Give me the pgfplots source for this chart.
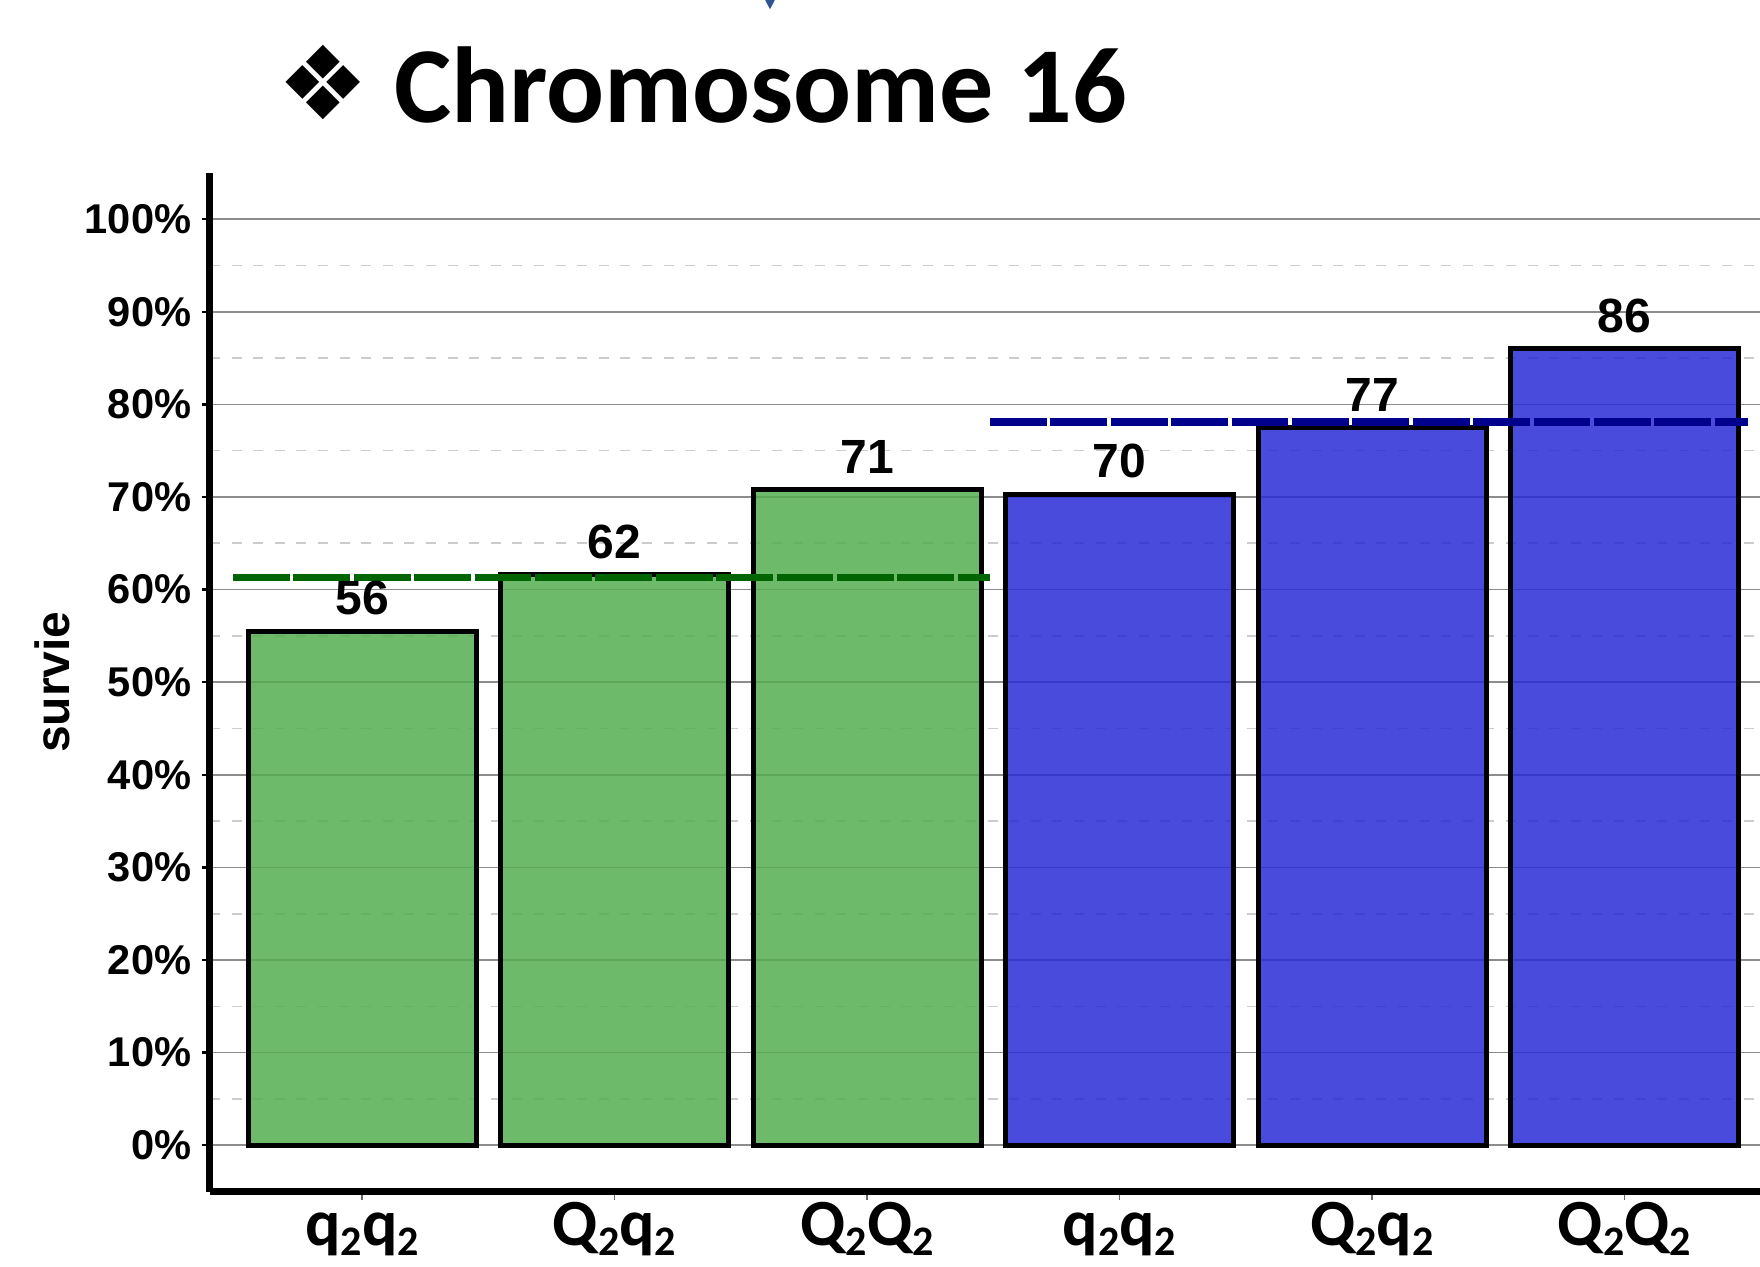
\documentclass[border=0pt]{standalone}
\usepackage{pgfplots}
\pgfplotsset{compat=1.18}
\usepackage{pgfplotstable}
\usepackage{fontspec}
\setmainfont{Liberation Sans}
\newfontfamily\calibri{Carlito}
\newfontfamily\dejavu{DejaVu Sans}
\definecolor{barGreen}{RGB}{84,174,80}
\definecolor{barBlue}{RGB}{41,43,214}
\definecolor{meanGreen}{RGB}{0,100,0}
\definecolor{meanBlue}{RGB}{0,0,140}
\definecolor{arrowBlue}{RGB}{47,85,151}

\pgfplotstableread{
x y lab
0 55.5 56
1 61.6 62
2 70.8 71
}\greentab
\pgfplotstableread{
x y lab
3 70.3 70
4 77.5 77
5 86.0 86
}\bluetab

\newcommand{\sub}[1]{\raisebox{-0.15em}{\fontsize{10.5pt}{10.5pt}\selectfont #1}}

\begin{document}
\begin{tikzpicture}
\useasboundingbox (-52.5pt,-18.8pt) rectangle (387.5pt,297.9pt);
\clip (-52.5pt,-18.8pt) rectangle (387.5pt,297.9pt);
\begin{axis}[
  at={(0pt,0pt)}, anchor=south west,
  scale only axis, width=390pt, height=254.7pt,
  xmin=-0.602, xmax=5.576, ymin=-5, ymax=105,
  axis x line=bottom, axis y line=left,
  axis line style={line width=1.75pt, -},
  tick align=outside,
  major tick length=2pt, minor tick length=0pt,
  ytick={0,10,...,100},
  minor ytick={5,15,...,95},
  ymajorgrids, yminorgrids,
  major grid style={black!45, line width=0.4pt},
  minor grid style={black!20, line width=0.4pt, dash pattern=on 2.5pt off 2.9pt},
  ytick style={black, line width=0.6pt},
  xtick style={black!60, line width=0.4pt},
  /pgf/number format/assume math mode=true,
  yticklabel={\pgfmathprintnumber{\tick}\%},
  yticklabel style={font=\bfseries\fontsize{10.4}{12}\selectfont, inner sep=0pt, xshift=-2.5pt},
  xtick={0,1,2,3,4,5},
  xticklabels={q\sub{2}q\sub{2}, Q\sub{2}q\sub{2}, Q\sub{2}Q\sub{2}, q\sub{2}q\sub{2}, Q\sub{2}q\sub{2}, Q\sub{2}Q\sub{2}},
  xticklabel style={font=\calibri\bfseries\fontsize{16.5}{18}\selectfont, anchor=base, inner sep=0pt, yshift=-11.5pt},
  ylabel={survie},
  ylabel style={font=\bfseries\fontsize{12}{14}\selectfont, at={(axis description cs:-0.1013,0.5)}, anchor=center},
]
\addplot[ybar, bar width=57pt, bar shift=0pt, fill=barGreen, fill opacity=0.85, draw=black, line width=1.25pt,
  nodes near coords, point meta=explicit symbolic,
  every node near coord/.append style={font=\bfseries\fontsize{12}{14}\selectfont, text=black, fill opacity=1, text opacity=1}]
  table[x=x, y=y, meta=lab] {\greentab};
\addplot[ybar, bar width=57pt, bar shift=0pt, fill=barBlue, fill opacity=0.85, draw=black, line width=1.25pt,
  nodes near coords, point meta=explicit symbolic,
  every node near coord/.append style={font=\bfseries\fontsize{12}{14}\selectfont, text=black, fill opacity=1, text opacity=1}]
  table[x=x, y=y, meta=lab] {\bluetab};
\addplot[meanGreen, line width=1.9pt, dash pattern=on 14.2pt off 0.9pt, sharp plot, mark=none]
  coordinates {(-0.511,61.3) (2.487,61.3)};
\addplot[meanBlue, line width=1.9pt, dash pattern=on 14.2pt off 0.9pt, sharp plot, mark=none]
  coordinates {(2.487,78.1) (5.489,78.1)};
\end{axis}
\node[anchor=base west, inner sep=0pt, font=\calibri\bfseries\fontsize{27}{32}\selectfont] at (45.8pt,267.2pt) {Chromosome 16};
\node[inner sep=0pt, font=\dejavu\fontsize{25.5}{28}\selectfont] at (28.2pt,277.3pt) {❖};
\fill[arrowBlue] (138.2pt,299pt) -- (141.8pt,299pt) -- (140pt,295.6pt) -- cycle;
\end{tikzpicture}
\end{document}
